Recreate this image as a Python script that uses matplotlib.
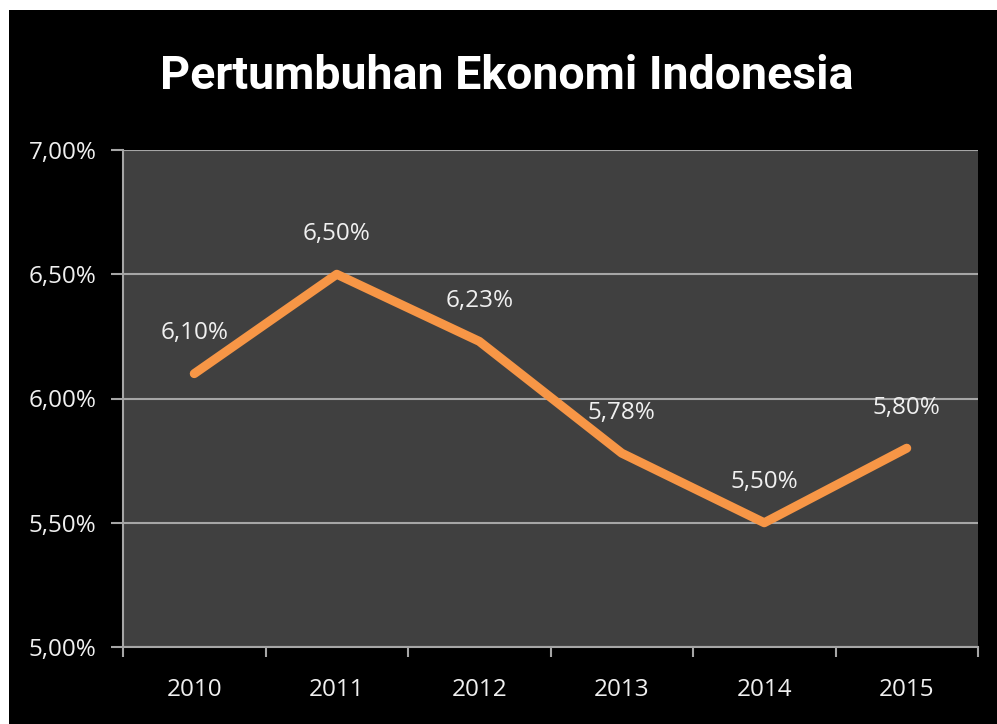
import matplotlib.pyplot as plt
import numpy as np
from matplotlib.patches import Rectangle

years = ['2010', '2011', '2012', '2013', '2014', '2015']
growth = [6.10, 6.50, 6.23, 5.78, 5.50, 5.80]
y_ticks = [5.0, 5.5, 6.0, 6.5, 7.0]

plt.rcParams['font.family'] = ['Open Sans', 'DejaVu Sans']

fig = plt.figure(figsize=(9.97, 7.24), dpi=100, facecolor='white')
# black panel with the thin white border at top and left
fig.patches.append(Rectangle((9 / 997, 0), 1, 1 - 10 / 724, transform=fig.transFigure,
                             facecolor='black', edgecolor='none', zorder=-5))

ax = fig.add_axes([123 / 997, 1 - 647 / 724, (978 - 123) / 997, (647 - 150) / 724])
ax.set_zorder(2)
ax.set_facecolor('#404040')

x = np.arange(len(years))
ax.plot(x, growth, color='#f79646', lw=6.5, solid_capstyle='round', solid_joinstyle='round', zorder=3)

for xi, v in zip(x, growth):
    ax.annotate(f'{v:.2f}%'.replace('.', ','), (xi, v), xytext=(0, 29), textcoords='offset points',
                ha='center', va='center', color='#f0f0f0', fontsize=17.5)

ax.set_xlim(-0.5, len(years) - 0.5)
ax.set_ylim(5.0, 7.0)
ax.set_yticks(y_ticks)
ax.set_yticklabels([f'{t:.2f}%'.replace('.', ',') for t in y_ticks])
ax.grid(axis='y', color='#a6a6a6', lw=1.5)
ax.set_axisbelow(True)

ax.set_xticks(np.arange(-0.5, len(years), 1.0))
ax.set_xticklabels([])
ax.set_xticks(x, minor=True)
ax.set_xticklabels(years, minor=True)
ax.tick_params(axis='x', which='minor', length=0, pad=22, labelsize=17.5, labelcolor='#f0f0f0')
ax.tick_params(axis='x', which='major', length=7, width=1.5, color='#a6a6a6', direction='out')
ax.tick_params(axis='y', length=9, width=1.5, color='#a6a6a6', pad=10, labelsize=17.5, labelcolor='#f0f0f0')

for s in ['top', 'right']:
    ax.spines[s].set_visible(False)
for s in ['left', 'bottom']:
    ax.spines[s].set_color('#a6a6a6')
    ax.spines[s].set_linewidth(1.5)

fig.text(507 / 997, 1 - 76 / 724, 'Pertumbuhan Ekonomi Indonesia', ha='center', va='center',
         color='white', fontsize=33.5, fontweight='bold', family=['Roboto', 'DejaVu Sans'])

fig.savefig('out.png', dpi=100, facecolor=fig.get_facecolor())
